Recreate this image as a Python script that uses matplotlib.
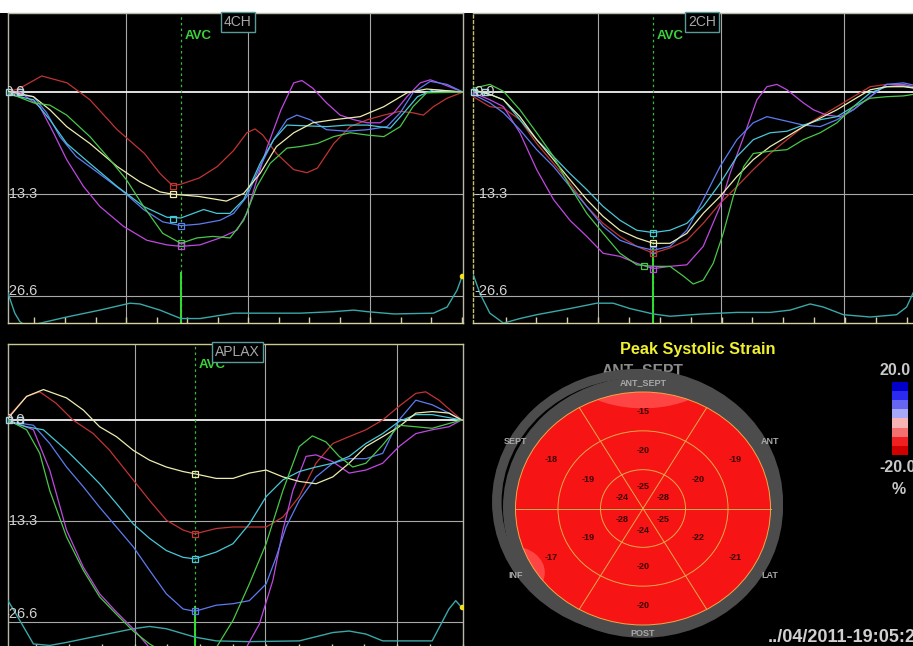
import matplotlib
matplotlib.use("Agg")
import matplotlib.pyplot as plt
import numpy as np
from matplotlib.patches import Ellipse, Wedge, Rectangle
from matplotlib.colors import ListedColormap

plt.rcParams['font.family'] = ['Liberation Sans', 'DejaVu Sans']

# ---------------- DATA ----------------
# time in % of displayed window, strain in %
ch4_red = [(0,0),(2.6,0.5),(7.4,2.1),(13,1.2),(18,-1.0),(24,-4.9),(30,-8.0),(33.4,-10.6),(36.2,-12.2),(38,-12.0),(42,-11.2),(46,-9.7),(49.6,-7.6),(52.5,-5.3),(54.3,-4.8),(56,-5.6),(59,-8.0),(62.8,-10.1),(65.7,-10.5),(68,-9.9),(71.6,-6.7),(75.2,-4.5),(79,-3.6),(82.6,-3.0),(86.2,-2.5),(89,-2.7),(91.3,-3.0),(93.5,-1.9),(96.5,-0.8),(100,0)]
ch4_magenta = [(0,-0.1),(2.6,0),(7,-1.9),(10,-5.3),(12.9,-8.8),(16.6,-12.3),(20.2,-14.9),(25.4,-17.5),(30.5,-19.3),(34.9,-19.9),(38,-20.1),(42.2,-19.9),(46.6,-19.0),(50.3,-18.0),(52.5,-15.8),(54.7,-11.4),(57,-7.1),(60,-2.3),(62.8,1.2),(64.6,1.5),(67,0.5),(70,-1.4),(73,-3.0),(76,-3.6),(79,-4.0),(81.8,-4.0),(84.8,-2.7),(87.7,-0.6),(90.6,1.2),(92.8,1.6),(95.7,1.0),(100,0)]
ch4_blue = [(0,-0.1),(5.6,-0.6),(8.5,-2.7),(11.4,-5.8),(15,-8.4),(20,-10.6),(25.4,-13.0),(29.8,-15.3),(34,-16.9),(38,-17.4),(42,-17.2),(46.6,-16.7),(49.6,-15.8),(52.5,-13.6),(55.4,-9.7),(58.4,-6.2),(61.3,-3.6),(63.5,-3.0),(66.4,-3.6),(70,-4.9),(74.5,-5.1),(79,-4.9),(83.3,-4.5),(86.2,-2.7),(89,-0.1),(92.8,1.4),(96.5,1.0),(100,0)]
ch4_cyan = [(0,-0.3),(5.6,-1.0),(9.2,-3.6),(12.9,-6.7),(18,-9.3),(24,-12.3),(29.8,-14.9),(34.9,-16.3),(38,-16.4),(43,-15.3),(45.9,-15.8),(48.8,-15.8),(51.8,-14.0),(55.4,-9.3),(58.4,-6.2),(61.3,-4.3),(65.7,-4.4),(70,-4.5),(74.5,-4.3),(79,-4.3),(84,-4.7),(87,-2.7),(90,-0.6),(93.5,0.3),(100,0)]
ch4_yellow = [(0,0.1),(5.6,-0.6),(9.2,-2.3),(12.9,-4.5),(18,-6.7),(24,-9.7),(29,-11.7),(33.4,-13.0),(36.2,-13.3),(42,-13.6),(48,-14.2),(51.8,-13.2),(55.4,-10.6),(59,-7.1),(62.8,-5.3),(67,-4.0),(71.6,-3.6),(77.4,-3.2),(82.6,-1.9),(87.7,-0.1),(92,0.4),(100,0)]
ch4_green = [(0,-0.1),(5.6,-1.4),(9.2,-1.7),(12.9,-3.0),(18,-5.8),(22.4,-8.8),(26,-11.4),(29.8,-14.9),(34,-18.4),(38,-19.7),(41.5,-19.0),(45,-18.8),(48.8,-19.0),(51.8,-16.7),(54.7,-12.3),(57.6,-9.3),(61.3,-7.3),(64.2,-7.1),(68,-6.7),(71.6,-5.8),(75.2,-5.3),(79,-5.6),(82.6,-5.8),(86.2,-4.5),(89,-1.9),(92,-0.1),(100,0)]
ch4_ecg = [(0,-26.2),(1.5,-28.8),(2.6,-29.9),(4.1,-30.5),(5.6,-30.3),(12.9,-29.3),(20.2,-28.4),(26.8,-27.5),(29,-27.6),(33.4,-28.4),(38,-29.5),(42.2,-29.5),(49.6,-28.8),(64.2,-28.8),(71.6,-28.6),(76,-28.4),(78.9,-28.6),(84.8,-28.9),(93.5,-28.8),(96.5,-28.0),(98.7,-25.8),(99.8,-24.0)]
ch4_avc_marks = [(36.2,-12.2,'red'),(36.2,-13.3,'yellow'),(36.2,-16.5,'cyan'),(38,-17.4,'blue'),(38,-19.7,'green'),(38,-20.1,'magenta')]

ch2_green = [(0.07,0.5),(3.7,1.0),(6.7,0.1),(10.3,-2.3),(14,-5.3),(17.7,-8.4),(21.3,-12.3),(25,-15.8),(28.6,-18.4),(32.3,-21.0),(36,-22.5),(39.6,-22.7),(43.3,-22.7),(46.3,-24.0),(48.4,-25.0),(50.6,-24.5),(52.8,-22.3),(55,-18.4),(57.2,-13.6),(59.5,-9.7),(61.6,-8.0),(65.3,-7.7),(69,-7.5),(72.6,-6.2),(76.3,-5.3),(80,-4.0),(83.6,-1.9),(87.3,-0.8),(90.9,-0.6),(94.6,-0.5),(100,0)]
ch2_magenta = [(0.07,-0.1),(3.7,-1.0),(6.7,-1.9),(10.3,-5.3),(14,-10.1),(17.7,-14.0),(21.3,-16.7),(25,-18.8),(28.6,-21.0),(32.3,-21.4),(36,-22.3),(39.6,-23.0),(43.3,-22.7),(47,-22.5),(50.6,-20.1),(54.3,-14.9),(56.5,-10.6),(59.5,-5.8),(62.4,-1.0),(64.6,0.7),(66.8,1.0),(69,0.3),(72.6,-1.4),(74.8,-2.3),(77.7,-3.0),(80.7,-3.2),(83.6,-2.3),(87.3,-0.6),(90.9,1.0),(94.6,1.0),(100,0.3)]
ch2_blue = [(0.07,-0.3),(3.7,-1.4),(6.7,-2.7),(10.3,-4.9),(14,-7.5),(17.7,-9.7),(21.3,-12.3),(25,-14.9),(28.6,-17.5),(32.3,-19.3),(36,-20.1),(39.6,-20.6),(43.3,-20.1),(47,-18.0),(50.6,-14.0),(54.3,-9.7),(58,-6.2),(61.6,-4.0),(64.6,-3.2),(69,-3.8),(72.6,-4.3),(76.3,-4.5),(80,-3.6),(83.6,-2.3),(87.3,-0.6),(90.9,1.0),(94.6,1.2),(100,0.5)]
ch2_cyan = [(0.07,0.1),(3.7,-0.3),(6.7,-1.0),(10.3,-3.6),(14,-6.2),(17.7,-8.4),(21.3,-10.6),(25,-12.7),(28.6,-14.9),(32.3,-16.7),(36,-18.0),(39.6,-18.3),(43.3,-18.0),(47,-17.1),(50.6,-14.9),(54.3,-11.9),(58,-8.4),(61.6,-6.2),(65.3,-5.3),(69,-5.1),(72.6,-4.3),(76.3,-3.6),(80,-3.2),(83.6,-1.9),(87.3,-0.1),(90.9,0.7),(94.6,0.8),(100,0.3)]
ch2_yellow = [(0.07,0.3),(3.7,-0.3),(6.7,-1.0),(10.3,-3.2),(14,-6.2),(17.7,-8.8),(21.3,-11.4),(25,-14.0),(28.6,-16.2),(32.3,-18.0),(36,-19.0),(39.6,-19.7),(43.3,-19.7),(47,-18.4),(50.6,-15.8),(54.3,-13.6),(58,-11.0),(61.6,-8.8),(65.3,-7.1),(69,-5.8),(72.6,-4.5),(76.3,-3.4),(80,-2.3),(83.6,-1.0),(87.3,0.3),(90.9,0.7),(94.6,0.7),(100,0.3)]
ch2_red = [(0.07,-0.6),(3.7,-1.9),(6.7,-2.1),(10.3,-3.6),(14,-6.7),(17.7,-9.3),(21.3,-11.9),(25,-14.9),(28.6,-17.1),(32.3,-18.8),(36,-20.1),(39.6,-21.0),(43.3,-20.3),(47,-19.3),(50.6,-17.1),(54.3,-14.5),(58,-12.3),(61.6,-10.1),(65.3,-8.0),(69,-6.2),(72.6,-4.5),(76.3,-3.2),(80,-1.9),(83.6,-0.6),(87.3,0.7),(90.9,1.0),(94.6,0.8),(100,0.1)]
ch2_ecg = [(0.07,-23.8),(1.5,-26.2),(3.7,-28.8),(6.7,-30.1),(10.3,-29.5),(14,-29.0),(21.3,-28.2),(27.2,-27.5),(30.8,-27.5),(34.5,-28.2),(39.6,-28.9),(43.3,-29.2),(50.6,-28.9),(58,-28.7),(65.3,-28.7),(69.7,-28.4),(74.1,-27.6),(77,-28.0),(81.4,-29.0),(87.3,-29.3),(93.1,-29.0),(95.3,-28.0),(96.7,-26.2),(100,-22.0)]
ch2_avc_marks = [(39.6,-18.3,'cyan'),(39.6,-19.7,'yellow'),(39.6,-20.6,'blue'),(39.6,-21.0,'red'),(37.5,-22.7,'green'),(39.6,-23.0,'magenta')]

lax_yellow = [(0,0.2),(4.1,3.1),(7.8,4.0),(12.9,2.9),(16.6,1.3),(20.2,-0.9),(23.9,-2.2),(27.6,-4.0),(31.2,-5.3),(34.9,-6.2),(38.6,-6.8),(41.2,-7.1),(45.9,-7.7),(49.6,-7.7),(53.2,-7.0),(56.9,-6.6),(60.6,-7.5),(64.2,-8.1),(67.9,-8.4),(71.6,-7.5),(75.2,-5.7),(78.9,-3.5),(82.6,-2.2),(86.2,-0.9),(89.9,0.9),(93.5,1.1),(97.2,0.9),(100,0)]
lax_red = [(0,0.4),(4.1,3.1),(7.0,3.7),(10.6,2.2),(14.3,0),(18.8,-1.8),(22.4,-4.0),(27.6,-7.9),(31.2,-10.6),(34.9,-13.2),(38.6,-14.5),(41.2,-15.0),(45.9,-14.3),(49.6,-14.1),(53.2,-14.1),(56.9,-14.1),(60.6,-12.8),(64.2,-10.1),(67.9,-5.7),(71.6,-3.1),(75.2,-2.2),(78.9,-1.3),(82.6,0),(86.2,1.8),(89.9,3.5),(92.1,3.7),(95,2.6),(100,0)]
lax_cyan = [(0,-0.2),(4.1,-0.9),(7.8,-1.3),(12.9,-4.0),(16.6,-6.2),(20.2,-8.4),(23.9,-11.0),(27.6,-13.7),(31.2,-15.6),(34.9,-17.2),(38.6,-18.1),(41.2,-18.3),(45.9,-17.4),(49.6,-16.3),(53.2,-13.7),(56.9,-10.1),(60.6,-7.9),(64.2,-6.8),(67.9,-6.2),(71.6,-5.7),(75.2,-4.8),(78.9,-3.1),(82.6,-1.8),(86.2,-0.2),(89.9,0.7),(93.5,0.7),(100,0)]
lax_blue = [(0,-0.2),(5.6,-0.7),(9.2,-3.1),(12.9,-6.2),(16.6,-8.8),(20.2,-11.5),(23.9,-14.1),(27.6,-16.7),(31.2,-19.8),(34.9,-22.9),(38.6,-24.9),(41.2,-25.2),(45.9,-24.4),(49.6,-24.2),(53.2,-23.8),(56.9,-21.6),(59.1,-18.1),(61.3,-14.1),(64.2,-10.6),(67.9,-7.5),(71.6,-5.7),(75.2,-5.1),(78.9,-5.1),(82.6,-4.4),(86.2,0),(89.9,2.6),(93.5,2.0),(97.2,0.9),(100,0)]
lax_green = [(0,0),(4.1,-1.3),(7.0,-4.4),(9.2,-9.3),(12.9,-15.4),(16.6,-19.8),(20.2,-23.3),(23.9,-25.6),(27.6,-27.8),(31.2,-29.5),(34.9,-30.8),(38.6,-32.0),(42.2,-32.0),(45.9,-30.0),(49.6,-26.4),(53.2,-21.6),(56.9,-16.3),(60.6,-9.3),(64.2,-3.5),(67.1,-2.1),(70.1,-2.9),(73,-4.8),(76,-6.2),(78.9,-5.7),(82.6,-3.3),(86.2,-0.7),(89.9,-0.9),(93.5,-1.1),(100,0)]
lax_magenta = [(0,0),(5.6,-1.3),(9.2,-6.6),(12.9,-14.5),(16.6,-19.4),(20.2,-22.9),(23.9,-25.3),(27.6,-27.5),(31.2,-30.0),(34.9,-32.2),(42.2,-33.0),(49.6,-32.2),(52.5,-30.0),(55.4,-26.9),(58.4,-21.1),(60.6,-14.5),(62.8,-9.3),(65.7,-4.8),(67.9,-4.6),(71.6,-5.5),(75.2,-7.0),(78.9,-6.6),(82.6,-5.7),(86.2,-3.5),(89.9,-1.8),(93.5,-1.3),(97.2,-0.9),(100,0)]
lax_ecg = [(0,-23.8),(2.6,-26.4),(5.6,-29.5),(9.2,-29.7),(12.9,-29.3),(20.2,-28.4),(27.6,-27.5),(31.2,-27.2),(34.9,-27.5),(41.2,-28.6),(45.9,-29.1),(53.2,-29.2),(64.2,-29.1),(71.6,-28.0),(75.2,-27.8),(78.9,-28.2),(82.6,-29.1),(93.5,-29.1),(97.2,-24.9),(98.7,-23.8),(100,-24.7)]
lax_avc_marks = [(41.2,-7.1,'yellow'),(41.2,-15.0,'red'),(41.2,-18.3,'cyan'),(41.2,-25.2,'blue')]

y_ticks = [0.0, -13.3, -26.6]

# bullseye (segments ordered: ANT_SEPT, ANT, LAT, POST, INF, SEPT)
segment_names = ['ANT_SEPT', 'ANT', 'LAT', 'POST', 'INF', 'SEPT']
basal_strain = [-15, -19, -21, -20, -17, -18]
mid_strain = [-20, -20, -22, -20, -19, -19]
apical_strain = [-25, -28, -25, -24, -28, -24]
scale_colors = ['#0000c8', '#2a2af0', '#6666f2', '#a8a8f8', '#f8b4b4', '#f47070', '#f02020', '#d00000']
scale_limits = [20.0, -20.0]

# ---------------- STYLE ----------------
COL = {'red': '#c03434', 'magenta': '#c048e0', 'blue': '#5c7cf0', 'cyan': '#48c8d8',
       'yellow': '#ececb0', 'green': '#48c848'}
ECG_COL = '#3aa8a8'
GRID_COL = '#a8a8a8'
W, H = 913, 646

fig = plt.figure(figsize=(W / 100, H / 100), dpi=100, facecolor='black')
fig.patches.append(Rectangle((0, 1 - 12.5 / H), 1, 12.5 / H, transform=fig.transFigure,
                             facecolor='white', edgecolor='none', zorder=-5))


def px_axes(x0, y0, x1, y1):
    return fig.add_axes([x0 / W, 1 - y1 / H, (x1 - x0) / W, (y1 - y0) / H])


def draw_panel(ax, curves, ecg, marks, ylim, grid_t, avc_t, tick_step, avc_solid_from,
               name, box_xy, avc_xy, label_x, label_y, dashed_left=False):
    ax.set_facecolor('black')
    ax.set_xlim(0, 100)
    ax.set_ylim(*ylim)
    for s in ax.spines.values():
        s.set_color('#b8b8a8')
        s.set_linewidth(1.0)
    ax.spines['bottom'].set_color('#d8d0a0')
    if dashed_left:
        ax.spines['left'].set_linestyle((0, (2, 2)))
        ax.spines['left'].set_color('#c8c070')
    ticks = np.arange(grid_t[0] - 3 * tick_step, 100.5, tick_step)
    ax.set_xticks(ticks)
    ax.set_yticks([])
    ax.tick_params(axis='x', direction='in', length=4, color='#d8d0a0', labelbottom=False, width=1)
    for g in grid_t:
        ax.axvline(g, color=GRID_COL, lw=0.8, zorder=1)
    for yv in y_ticks:
        if yv == 0:
            ax.axhline(yv, color='#f2f2f2', lw=1.3, zorder=1)
        else:
            ax.axhline(yv, color=GRID_COL, lw=0.8, zorder=1)
    ax.axvline(avc_t, color='#3cb83c', lw=0.9, ls=(0, (2, 2.5)), zorder=2)
    ax.plot([avc_t, avc_t], [avc_solid_from, ylim[0]], color='#30e030', lw=1.4, zorder=2)
    et = [p[0] for p in ecg]; ev = [p[1] for p in ecg]
    ax.plot(et, ev, color=ECG_COL, lw=1.0, zorder=3)
    ax.plot(et[-1], ev[-1], 'o', color='#f0e020', ms=3, zorder=4)
    for cname, data in curves:
        t = [p[0] for p in data]; v = [p[1] for p in data]
        ax.plot(t, v, color=COL[cname], lw=0.9, zorder=3, solid_joinstyle='round')
    for t, v, cname in marks:
        ax.plot(t, v, 's', ms=4.5, mfc='none', mec=COL[cname], mew=0.9, zorder=5)
    ax.plot([0.3, 2.6], [0, 0], 's', ms=5, mfc='none', mec='#9fd8e8', mew=1.0, zorder=5, clip_on=False)
    for yv, ly in zip(y_ticks, label_y):
        ax.text(label_x, ly, f'{yv:.1f}', color='#d0d0d0', fontsize=10.5, ha='left',
                va='center', clip_on=True, zorder=6)
    ax.text(avc_xy[0], avc_xy[1], 'AVC', color='#3cd03c', fontsize=9.5, fontweight='bold',
            ha='left', va='center', zorder=6)
    ax.text(box_xy[0], box_xy[1], name, color='#a8a8a8', fontsize=10, ha='center', va='center',
            zorder=7, bbox=dict(boxstyle='square,pad=0.22', fc='black', ec='#5a9a9a', lw=1.0))


ax1 = px_axes(8, 12.7, 463, 323)
draw_panel(ax1, [('red', ch4_red), ('magenta', ch4_magenta), ('blue', ch4_blue), ('cyan', ch4_cyan),
                 ('yellow', ch4_yellow), ('green', ch4_green)],
           ch4_ecg, ch4_avc_marks, (-30.08, 10.34), [25.95, 52.75, 79.55], 38.0, 6.71, -23.6,
           '4CH', (50.5, 9.1), (38.9, 7.3), -0.9, [0, -13.3, -25.9])

ax2 = px_axes(473, 12.7, 928, 323)
draw_panel(ax2, [('red', ch2_red), ('magenta', ch2_magenta), ('blue', ch2_blue), ('cyan', ch2_cyan),
                 ('yellow', ch2_yellow), ('green', ch2_green)],
           ch2_ecg, ch2_avc_marks, (-30.08, 10.34), [27.5, 54.5, 81.5], 39.6, 6.78, -20.3,
           '2CH', (50.3, 9.1), (40.4, 7.3), 0.2, [0, -13.3, -25.9], dashed_left=True)

ax3 = px_axes(8, 344, 463, 650)
draw_panel(ax3, [('red', lax_red), ('magenta', lax_magenta), ('blue', lax_blue), ('cyan', lax_cyan),
                 ('yellow', lax_yellow), ('green', lax_green)],
           lax_ecg, lax_avc_marks, (-30.3, 10.0), [27.9, 56.7, 85.7], 41.2, 7.24, -24.6,
           'APLAX', (50.5, 8.9), (42.0, 7.3), -0.9, [0, -13.3, -25.6])
ax3.spines['top'].set_color('#c8c890')

# ---------------- BULLSEYE ----------------
cx, cy, rxp, ryp = 643, 508.5, 127.5, 116.5
axb = px_axes(470, 335, 913, 646)
axb.set_xlim((470 - cx) / rxp, (913 - cx) / rxp)
axb.set_ylim((cy - 646) / ryp, (cy - 335) / ryp)
axb.axis('off')

GRAY = '#4c4c4c'
axb.text(0, 1.145, 'ANT_SEPT', color='#8a8a8a', fontsize=11.3, fontweight='bold',
         ha='center', va='baseline', zorder=0)
axb.add_patch(Ellipse((-0.043, 0.056), 2 * 1.141, 2 * 1.142, fc=GRAY, ec='none', zorder=1))
axb.add_patch(Ellipse((-0.043, 0.056), 2 * 1.066, 2 * 1.062, fc='black', ec='none', zorder=1.1))
axb.add_patch(Ellipse((0.0, 0.01), 2 * 1.098, 2 * 1.12, fc=GRAY, ec='none', zorder=1.2))

seg_angles = [90, 30, -30, -90, 210, 150]
RED = '#f61414'
rings = [(1.0, basal_strain, 0.835), (2 / 3, mid_strain, 0.5), (1 / 3, apical_strain, 0.185)]
for r_out, vals, r_lab in rings:
    for ang, val in zip(seg_angles, vals):
        axb.add_patch(Wedge((0, 0), r_out, ang - 30, ang + 30, width=1 / 3, fc=RED, ec='none', zorder=2))
clip = Ellipse((0, 0), 2.0, 2.0, transform=axb.transData)
for pc, w, h in [((0, 1.25), 1.25, 0.78), ((-1.02, -0.55), 0.5, 0.45)]:
    p = Ellipse(pc, w, h, fc='#ff4444', ec='none', zorder=2.2)
    axb.add_patch(p)
    p.set_clip_path(clip)
LINE = '#f0a848'
for r in [1 / 3, 2 / 3, 1.0]:
    axb.add_patch(Ellipse((0, 0), 2 * r, 2 * r, fc='none', ec=LINE, lw=0.7, zorder=3))
for a in [0, 60, 120]:
    ra = np.deg2rad(a)
    axb.plot([-np.cos(ra), np.cos(ra)], [-np.sin(ra), np.sin(ra)], color=LINE, lw=0.7, zorder=3)
for r_out, vals, r_lab in rings:
    for ang, val in zip(seg_angles, vals):
        ra = np.deg2rad(ang)
        axb.text(r_lab * np.cos(ra), r_lab * np.sin(ra), f'{val}', color='#3a0000', fontsize=6.5,
                 fontweight='bold', ha='center', va='center', zorder=4)
name_r = [1.085, 1.152, 1.152, 1.077, 1.152, 1.152]
for nm, ang, r in zip(segment_names, seg_angles, name_r):
    ra = np.deg2rad(ang)
    axb.text(r * np.cos(ra), r * np.sin(ra), nm, color='#a8a8a8', fontsize=6.5, fontweight='bold',
             ha='center', va='center', zorder=4)
axb.text(0.429, 1.367, 'Peak Systolic Strain', color='#f0f030', fontsize=11.7, fontweight='bold',
         ha='center', va='center', zorder=5)

# colour scale
axc = px_axes(892, 382, 908, 455)
axc.imshow(np.arange(len(scale_colors)).reshape(-1, 1), cmap=ListedColormap(scale_colors), aspect='auto')
axc.axis('off')
fig.text(895 / W, 1 - 370.5 / H, f'{scale_limits[0]:.1f}', color='#c8c8c8', fontsize=11.5,
         fontweight='bold', ha='center', va='center')
fig.text(879 / W, 1 - 468 / H, f'{scale_limits[1]:.1f}', color='#c8c8c8', fontsize=11.5,
         fontweight='bold', ha='left', va='center')
fig.text(899 / W, 1 - 490 / H, '%', color='#c8c8c8', fontsize=11.5, fontweight='bold',
         ha='center', va='center')
fig.text(768 / W, 1 - 638 / H, '../04/2011-19:05:26', color='#d0d0d0', fontsize=13,
         fontweight='bold', ha='left', va='center')

fig.savefig('out.png', dpi=100, facecolor='black')
